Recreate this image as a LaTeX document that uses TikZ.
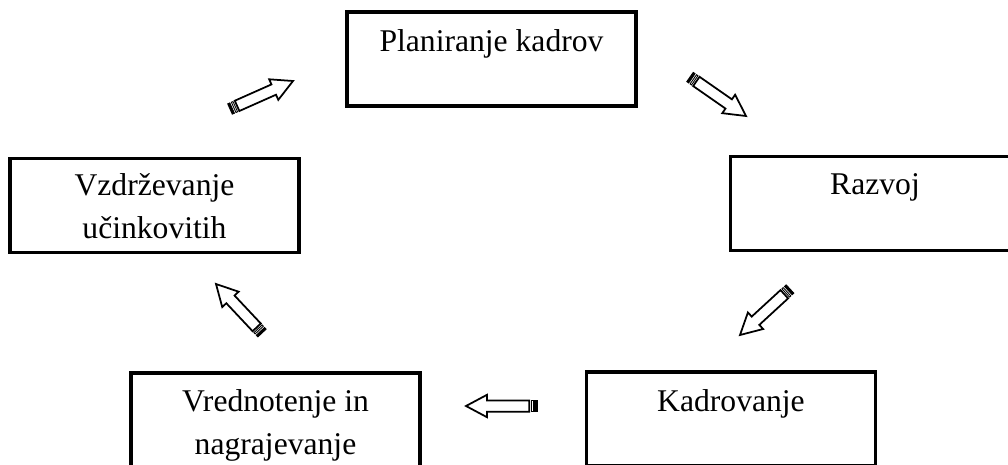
\documentclass[tikz,border=0pt]{standalone}
\usepackage{fontspec}
\setmainfont{Liberation Serif}
\usetikzlibrary{calc,positioning}
\tikzset{
  box/.style={draw, line width=2pt, minimum width=5.78cm, minimum height=1.88cm, inner sep=0pt},
  boxtext/.style={inner sep=0pt, align=center, font=\fontsize{18}{24.5}\selectfont},
  arrowbody/.style={draw, line width=1pt, fill=white, line join=miter},
  arrowstripe/.style={draw, fill=black, line width=0.5pt}
}
\newcommand{\stripedarrow}[2]{%
  \filldraw[arrowstripe] ($(#1)!3.2pt!90:(#2)$) -- ($(#1)!1.3pt!(#2)!3.2pt!90:(#2)$) -- ($(#1)!1.3pt!(#2)!3.2pt!-90:(#2)$) -- ($(#1)!3.2pt!-90:(#2)$) -- cycle;
  \draw[arrowstripe, fill=white] ($(#1)!2.3pt!(#2)!3.2pt!90:(#2)$) -- ($(#1)!3.3pt!(#2)!3.2pt!90:(#2)$) -- ($(#1)!3.3pt!(#2)!3.2pt!-90:(#2)$) -- ($(#1)!2.3pt!(#2)!3.2pt!-90:(#2)$) -- cycle;
  \draw[arrowbody] ($(#1)!4.4pt!(#2)!3.2pt!90:(#2)$) -- ($(#2)!12pt!(#1)!3.2pt!-90:(#1)$) -- ($(#2)!12pt!(#1)!6.4pt!-90:(#1)$) -- (#2) -- ($(#2)!12pt!(#1)!6.4pt!90:(#1)$) -- ($(#2)!12pt!(#1)!3.2pt!90:(#1)$) -- ($(#1)!4.4pt!(#2)!3.2pt!-90:(#2)$) -- cycle;
}
\begin{document}
\begin{tikzpicture}[x=0.02cm, y=-0.02cm]
  \useasboundingbox (0,0) rectangle (1008,464);
  \clip (0,0) rectangle (1008,464);
  \node[box] (plan) at (491.5,59) {};
  \node[box] (razvoj) at (875,203.5) {};
  \node[box] (vzdr) at (154.5,205.5) {};
  \node[box] (kadr) at (731,419) {};
  \node[box] (vred) at (275.5,420) {};
  \node[boxtext, below=0.37cm of plan.north] (plantext) {Planiranje kadrov};
  \node[boxtext, below=0.37cm of razvoj.north] (razvojtext) {Razvoj};
  \node[boxtext, below=0.33cm of vzdr.north] (vzdrtext) {Vzdrževanje\\učinkovitih};
  \node[boxtext, below=0.37cm of kadr.north] (kadrtext) {Kadrovanje};
  \node[boxtext, below=0.35cm of vred.north] (vredtext) {Vrednotenje in\\nagrajevanje};
  \coordinate (a1t) at (230,109);
  \coordinate (a1h) at (293,81);
  \coordinate (a2t) at (690,77);
  \coordinate (a2h) at (746,116);
  \coordinate (a3t) at (790,289);
  \coordinate (a3h) at (740,335);
  \coordinate (a4t) at (537,406);
  \coordinate (a4h) at (466,406);
  \coordinate (a5t) at (262,333);
  \coordinate (a5h) at (216,284);
  \stripedarrow{a1t}{a1h}
  \stripedarrow{a2t}{a2h}
  \stripedarrow{a3t}{a3h}
  \stripedarrow{a4t}{a4h}
  \stripedarrow{a5t}{a5h}
\end{tikzpicture}
\end{document}
